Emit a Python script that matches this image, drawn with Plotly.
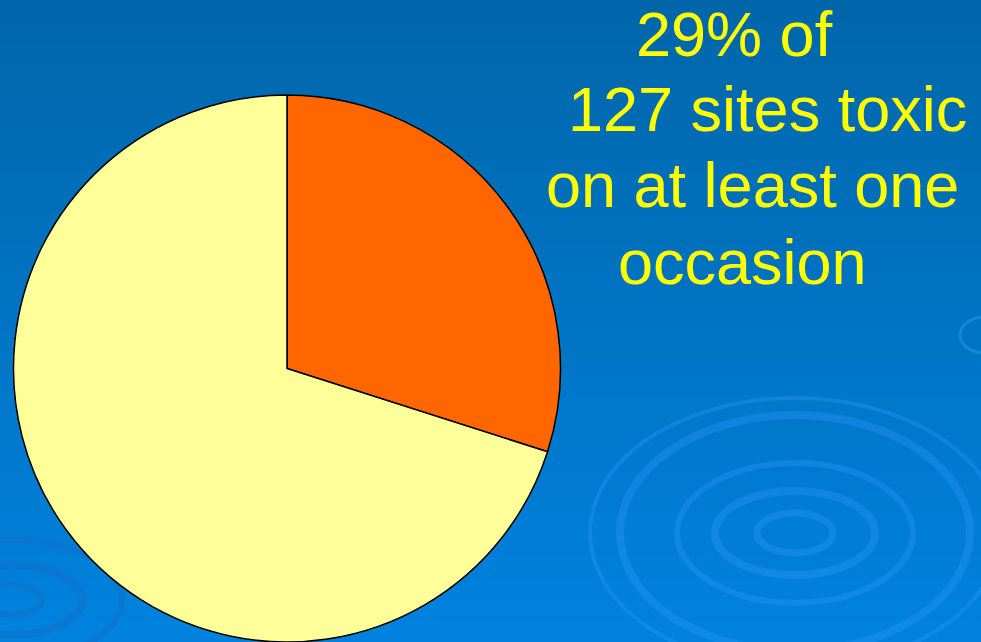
import plotly.graph_objects as go

# Data
labels = ["Toxic on at least one occasion", "Not toxic"]
values = [38, 89]          # of 127 sites
colors = ["#FF6600", "#FFFF99"]
text_lines = ["29% of", "127 sites toxic", "on at least one", "occasion"]

W, H = 981, 642

fig = go.Figure()
fig.add_trace(go.Pie(
    labels=labels, values=values, sort=False, direction="clockwise", rotation=0,
    marker=dict(colors=colors, line=dict(color="black", width=1.5)),
    textinfo="none", hoverinfo="label+percent", showlegend=False,
    domain=dict(x=[13 / W, 561 / W], y=[0.0, 1 - 95 / H]),
))

# Background gradient (top dark blue -> lighter blue at bottom)
shapes = []
n = 60
top = (0, 102, 170)
bot = (0, 130, 222)
for i in range(n):
    t = i / (n - 1)
    c = tuple(int(round(top[k] + (bot[k] - top[k]) * t)) for k in range(3))
    y1 = 1 - i / n
    y0 = 1 - (i + 1) / n
    shapes.append(dict(type="rect", xref="paper", yref="paper", x0=0, x1=1,
                       y0=y0 - 0.002, y1=y1, fillcolor="rgb(%d,%d,%d)" % c,
                       line=dict(width=0), layer="below"))

# Ripple rings
def ring(cx, cy, rx, ry, w, col):
    shapes.append(dict(type="circle", xref="paper", yref="paper",
                       x0=(cx - rx) / W, x1=(cx + rx) / W,
                       y0=1 - (cy + ry) / H, y1=1 - (cy - ry) / H,
                       line=dict(color=col, width=w), layer="below"))

rc = "rgba(40,150,245,0.4)"
for rx, ry, w in [(38, 20, 7), (80, 42, 8), (118, 70, 6), (175, 118, 8), (205, 135, 4)]:
    ring(795, 533, rx, ry, w, rc)
for rx, ry, w in [(30, 15, 6), (70, 35, 7), (110, 60, 6)]:
    ring(12, 600, rx, ry, w, "rgba(20,110,200,0.5)")
for rx, ry, w in [(25, 18, 3)]:
    ring(985, 335, rx, ry, w, "rgba(60,160,245,0.4)")

annotations = []
centers_y = [34, 109, 185, 262]
lefts_x = [634, 566, 544, 616]
for txt, yc, xl in zip(text_lines, centers_y, lefts_x):
    annotations.append(dict(text=txt, x=xl / W, y=1 - yc / H, xref="paper", yref="paper",
                            xanchor="left", yanchor="middle", showarrow=False,
                            font=dict(family="Liberation Sans, Arial", size=63, color="#FFFF00")))

fig.update_layout(
    width=W, height=H, margin=dict(l=0, r=0, t=0, b=0),
    paper_bgcolor="rgb(0,115,195)", plot_bgcolor="rgba(0,0,0,0)",
    shapes=shapes, annotations=annotations,
)
fig.write_html("out.html")
